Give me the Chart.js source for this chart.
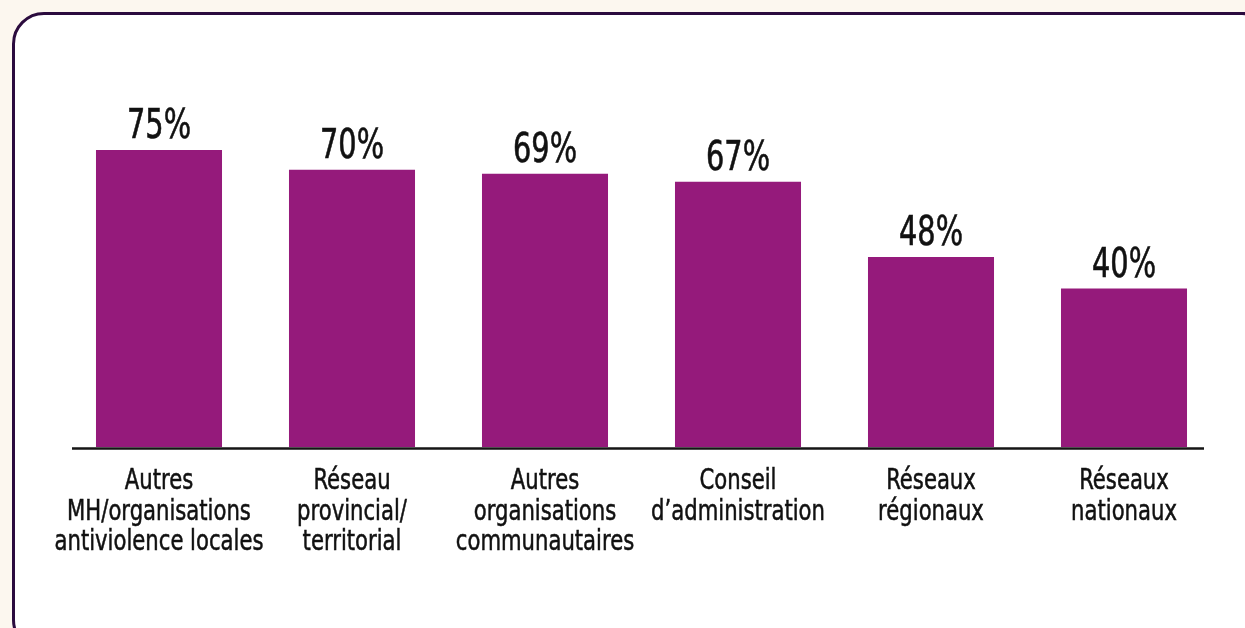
<!DOCTYPE html>
<html lang="fr">
<head>
<meta charset="utf-8">
<script src="https://cdn.jsdelivr.net/npm/chart.js@4.4.1/dist/chart.umd.min.js"></script>
<style>
  html, body { margin: 0; padding: 0; }
  body {
    width: 1245px;
    height: 628px;
    overflow: hidden;
    background: #fcf7ef;
    position: relative;
  }
  .cadre {
    position: absolute;
    left: 12px;
    top: 12px;
    width: 1262px;
    height: 640px;
    box-sizing: border-box;
    border: 3px solid #2b0b3e;
    border-radius: 32px;
    background: #fff;
  }
  #graphique {
    position: absolute;
    left: 0;
    top: 0;
  }
</style>
</head>
<body>
<div class="cadre"></div>
<canvas id="graphique" width="1245" height="628"></canvas>
<script>
// Lieux de diffusion / participation (%)
const categories = [
  ['Autres', 'MH/organisations', 'antiviolence locales'],
  ['Réseau', 'provincial/', 'territorial'],
  ['Autres', 'organisations', 'communautaires'],
  ['Conseil', 'd’administration'],
  ['Réseaux', 'régionaux'],
  ['Réseaux', 'nationaux']
];
const valeurs = [75, 70, 69, 67, 48, 40];

const POLICE = "'Liberation Sans Narrow', 'DejaVu Sans Condensed', 'Roboto', sans-serif";
const VIOLET = '#951a7b';

// texte resserré horizontalement, centré sur x, un peu épaissi
function texteEtroit(ctx, txt, x, y, etroit) {
  ctx.save();
  ctx.translate(x, y);
  ctx.scale(etroit, 1);
  ctx.fillText(txt, 0, 0);
  ctx.strokeText(txt, 0, 0);
  ctx.restore();
}

// pourcentages au-dessus des barres
const etiquettesValeurs = {
  id: 'etiquettesValeurs',
  afterDatasetsDraw(chart) {
    const ctx = chart.ctx;
    const meta = chart.getDatasetMeta(0);
    ctx.save();
    ctx.font = '40px ' + POLICE;
    ctx.fillStyle = '#111';
    ctx.strokeStyle = '#111';
    ctx.lineWidth = 0.6;
    ctx.textAlign = 'center';
    ctx.textBaseline = 'alphabetic';
    meta.data.forEach((barre, i) => {
      texteEtroit(ctx, valeurs[i] + '%', barre.x, barre.y - 12, 0.8);
    });
    ctx.restore();
  }
};

// libellés des catégories + ligne de base
const axeCategories = {
  id: 'axeCategories',
  afterDatasetsDraw(chart) {
    const { ctx, chartArea } = chart;
    const x = chart.scales.x;
    ctx.save();
    ctx.strokeStyle = '#151515';
    ctx.lineWidth = 2.5;
    ctx.beginPath();
    ctx.moveTo(chartArea.left + 9.5, chartArea.bottom + 1.5);
    ctx.lineTo(chartArea.right - 16.5, chartArea.bottom + 1.5);
    ctx.stroke();

    ctx.font = '28px ' + POLICE;
    ctx.fillStyle = '#111';
    ctx.strokeStyle = '#111';
    ctx.lineWidth = 0.5;
    ctx.textAlign = 'center';
    ctx.textBaseline = 'alphabetic';
    categories.forEach((lignes, i) => {
      const cx = x.getPixelForValue(i);
      lignes.forEach((l, j) => {
        texteEtroit(ctx, l, cx, chartArea.bottom + 42 + j * 30.5, 0.84);
      });
    });
    ctx.restore();
  }
};

new Chart(document.getElementById('graphique'), {
  type: 'bar',
  data: {
    labels: categories.map(c => c.join(' ')),
    datasets: [{
      data: valeurs,
      backgroundColor: VIOLET,
      borderWidth: 0,
      barPercentage: 0.653,
      categoryPercentage: 1
    }]
  },
  options: {
    responsive: false,
    animation: false,
    layout: {
      padding: { left: 62.5, right: 24.5, top: 51, bottom: 0 }
    },
    plugins: {
      legend: { display: false },
      tooltip: { enabled: false }
    },
    scales: {
      y: {
        display: false,
        min: 0,
        max: 100
      },
      x: {
        grid: { display: false },
        border: { display: false },
        afterFit(scale) { scale.height = 181; },
        ticks: { display: false }
      }
    }
  },
  plugins: [etiquettesValeurs, axeCategories]
});
</script>
</body>
</html>
